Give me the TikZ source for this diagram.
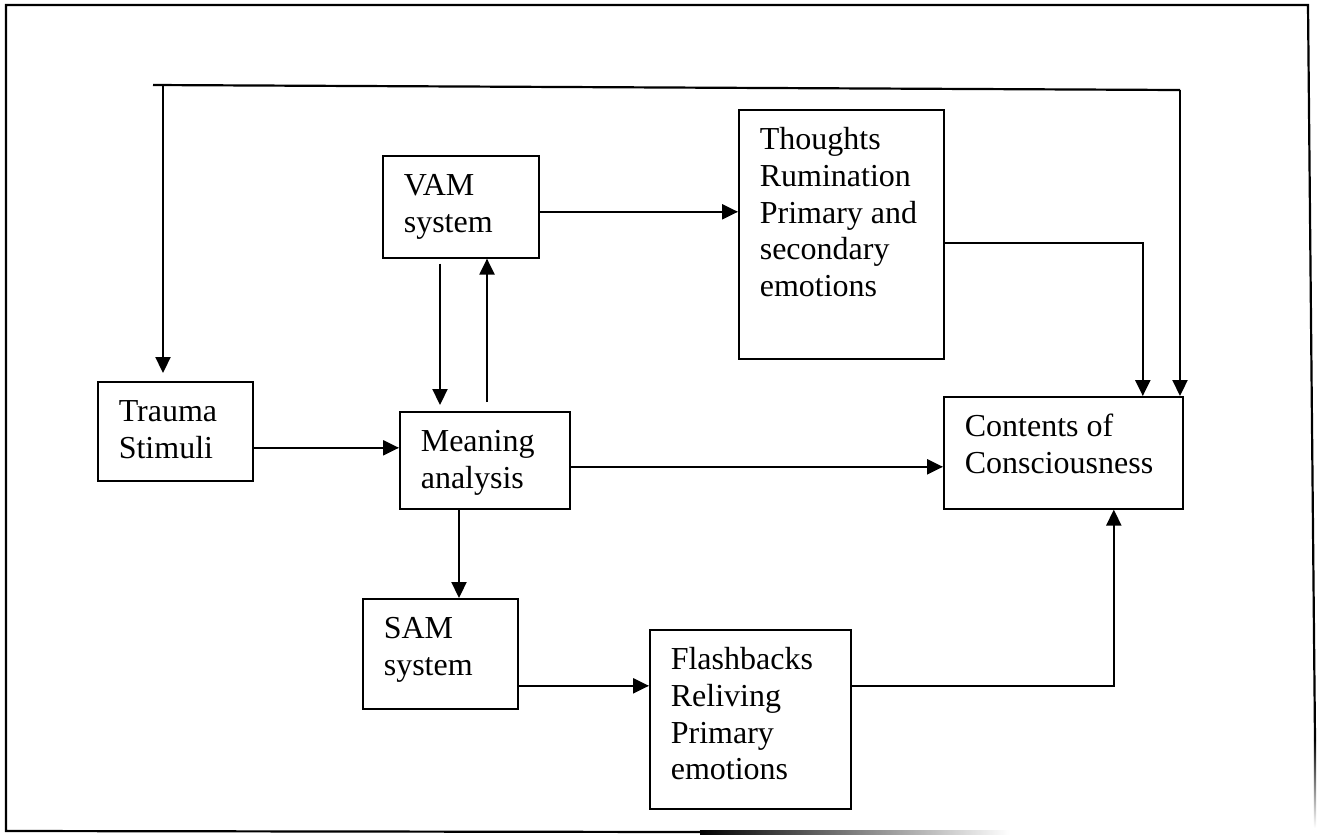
\documentclass[tikz,border=0pt]{standalone}
\usepackage{fontspec}
\setmainfont{Liberation Serif}
\usetikzlibrary{arrows.meta}

\newcommand{\boxtxt}[3]{\parbox[t][#2][t]{#1}{\raggedright\strut #3}}

\tikzset{
  box/.style={draw, line width=0.8pt, anchor=north west, inner xsep=10.5pt, inner ysep=7pt,
              font={\fontsize{16}{18.4}\selectfont}},
  arr/.style={-{Triangle[length=8pt,width=7.5pt]}, line width=1.1pt},
  wire/.style={line width=1.1pt},
}

\begin{document}
\begin{tikzpicture}[x=0.5pt,y=-0.5pt]
\useasboundingbox (0,0) rectangle (1317,837);

% outer frame
\draw[line width=1.1pt] (1315,740) -- (1308,5) -- (6,5) -- (6,831) -- (700,832);
\shade[left color=black, right color=white] (700,830.8) rectangle (1010,834);
\shade[top color=black, bottom color=white] (1313.9,740) rectangle (1316.1,828);

% the boxes
\node[box] (trauma) at (97,381) {\boxtxt{56.5pt}{35.5pt}{Trauma\\Stimuli}};
\node[box] (vam) at (382,155) {\boxtxt{57pt}{37pt}{VAM\\system}};
\node[box] (thoughts) at (738,109) {\boxtxt{81.5pt}{110.5pt}{Thoughts\\Rumination\\Primary and\\secondary\\emotions}};
\node[box] (meaning) at (399,411) {\boxtxt{64pt}{34.5pt}{Meaning\\analysis}};
\node[box] (contents) at (943,396) {\boxtxt{98.5pt}{42pt}{Contents of\\Consciousness}};
\node[box] (sam) at (362,598) {\boxtxt{56.5pt}{41pt}{SAM\\system}};
\node[box] (flash) at (649,629) {\boxtxt{79.5pt}{75.5pt}{Flashbacks\\Reliving\\Primary\\emotions}};

% line across the top
\coordinate (busL) at (153,85);
\coordinate (busT) at (163,85);
\coordinate (busR) at (1180,90);
\draw[wire] (busL) -- (busR);
\draw[arr] (busR) -- (busR |- contents.north);
\draw[arr, shorten >=4pt] (busT) -- (busT |- trauma.north);

% arrows
\draw[arr] ([yshift=-8.25pt]trauma.east) -- ([yshift=-8.25pt]trauma.east -| meaning.west);
\draw[arr, shorten <=2.5pt, shorten >=3pt] ([xshift=29pt]vam.south west) -- ([xshift=29pt]vam.south west |- meaning.north);
\draw[arr, shorten <=4.5pt] ([xshift=52.5pt]vam.south west |- meaning.north) -- ([xshift=52.5pt]vam.south west);
\draw[arr] ([yshift=-2.5pt]vam.east) -- ([yshift=-2.5pt]vam.east -| thoughts.west);
\draw[arr] ([yshift=-4.5pt]thoughts.east) -| ([xshift=39.75pt]contents.north);
\draw[arr] ([yshift=-3.25pt]meaning.east) -- ([yshift=-3.25pt]meaning.east -| contents.west);
\draw[arr] ([xshift=30pt]meaning.south west) -- ([xshift=30pt]meaning.south west |- sam.north);
\draw[arr] ([yshift=-16pt]sam.east) -- ([yshift=-16pt]sam.east -| flash.west);
\draw[arr] ([yshift=16.75pt]flash.east) -| ([xshift=25.25pt]contents.south);

\end{tikzpicture}
\end{document}
